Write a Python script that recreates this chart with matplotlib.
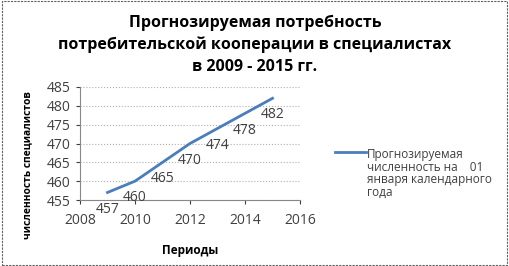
import matplotlib.pyplot as plt
from matplotlib.patches import Rectangle

plt.rcParams['font.family'] = ['Open Sans', 'DejaVu Sans']

years = [2009, 2010, 2011, 2012, 2013, 2014, 2015]
values = [457, 460, 465, 470, 474, 478, 482]
x_ticks = [2008, 2010, 2012, 2014, 2016]
y_ticks = [455, 460, 465, 470, 475, 480, 485]

title = 'Прогнозируемая потребность\nпотребительской кооперации в специалистах\nв 2009 - 2015 гг.'
legend_label = 'Прогнозируемая\nчисленность на    01\nянваря календарного\nгода'

fig = plt.figure(figsize=(5.1, 2.66), dpi=100)
ax = fig.add_axes([80 / 510, 1 - 200 / 266, 220 / 510, 113 / 266])

line_color = '#4a7ebb'
ax.plot(years, values, color=line_color, lw=2)
for x, y in zip(years, values):
    ax.annotate(str(y), (x, y), xytext=(0, -12), textcoords='offset points',
                ha='center', va='center', fontsize=10, color='#404040')

ax.set_xlim(2008, 2016)
ax.set_ylim(455, 485)
ax.set_xticks(x_ticks)
ax.set_yticks(y_ticks)
ax.tick_params(labelsize=10, colors='#404040', length=3, direction='out')
ax.tick_params(axis='x', pad=6)
ax.grid(axis='y', color='#b0b0b0', lw=0.8, ls=':')
for s in ['top', 'right']:
    ax.spines[s].set_visible(False)
for s in ['left', 'bottom']:
    ax.spines[s].set_color('#888888')

ax.set_xlabel('Периоды', fontsize=8.5, fontweight='bold')
ax.xaxis.set_label_coords(0.5, -0.39)
ax.set_ylabel('численность специалистов', fontsize=7.4, fontweight='bold')
ax.yaxis.set_label_coords(-47 / 220, 0.31)

fig.text(0.5, 0.943, title, ha='center', va='top', fontsize=11.5,
         fontweight='bold', linespacing=1.45)

# legend drawn by hand
fig.add_artist(plt.Line2D([335 / 510, 366 / 510], [1 - 152 / 266] * 2,
                          color=line_color, lw=2))
fig.text(367 / 510, 1 - 148 / 266, legend_label, ha='left', va='top',
         fontsize=8.5, color='#404040', linespacing=0.97)

# dashed border
fig.add_artist(Rectangle((0.003, 0.005), 0.992, 0.99, transform=fig.transFigure,
                         fill=False, ls=(0, (2, 1)), lw=0.8, ec='#606060'))

fig.savefig('out.png', dpi=100)
